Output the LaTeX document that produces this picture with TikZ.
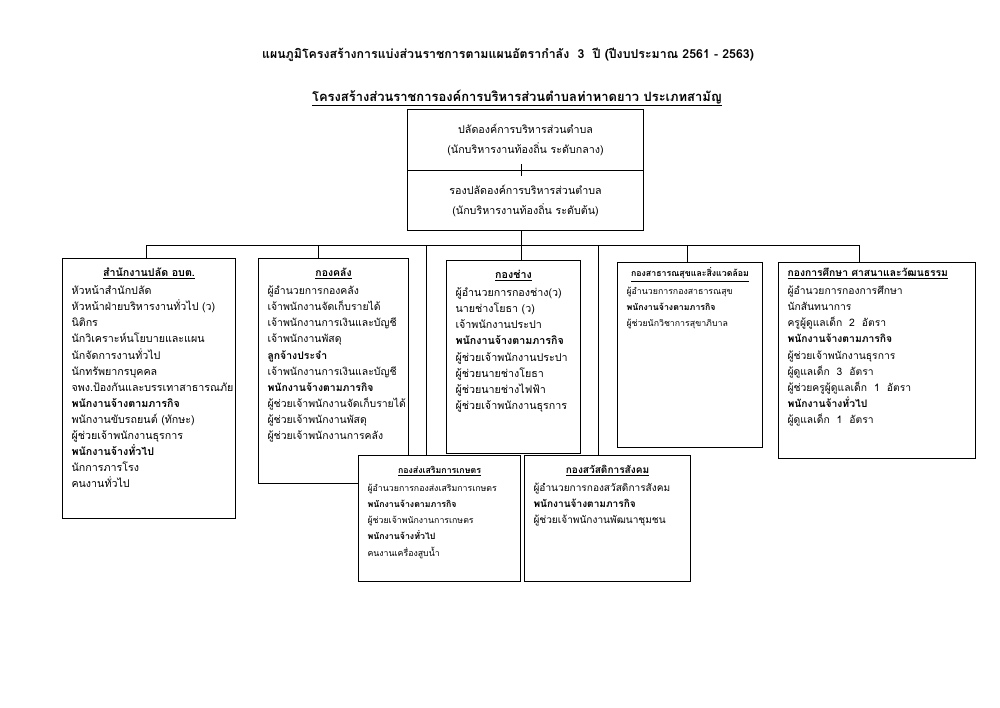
\documentclass[tikz,border=0pt]{standalone}
\usepackage{fontspec}
\setmainfont[Script=Thai]{Loma}
\usetikzlibrary{positioning,calc}
\newdimen\pxu \pxu=0.842pt
\newcommand{\kt}[1]{\rule{0pt}{11.2pt}\smash{\underline{\textbf{#1}}}}
\newcommand{\kb}[1]{\textbf{#1}}
% box with text on top: width, height (px), content
\newcommand{\kong}[3]{\parbox[t][#2\pxu][t]{#1\pxu}{\raggedright #3}}
\tikzset{
  hua/.style={draw,line width=0.9pt,anchor=north west,inner sep=0pt,align=center,
              minimum width=236\pxu,minimum height=61\pxu,font=\fontsize{9}{16.8}\selectfont},
  kongbox/.style={draw,fill=white,line width=0.9pt,anchor=north west,inner xsep=9\pxu,inner ysep=5\pxu,
                  font=\fontsize{9}{13.5}\selectfont},
  lek/.style={font=\fontsize{7.4}{13.5}\selectfont},
  sen/.style={line width=0.8pt},
}
\begin{document}
\begin{tikzpicture}[x=0.842pt,y=-0.842pt]
  \useasboundingbox (0,0) rectangle (1000,707);
  \node[font=\bfseries\fontsize{10.4}{14}\selectfont] (title) at (508,55)
    {แผนภูมิโครงสร้างการแบ่งส่วนราชการตามแผนอัตรากำลัง \ 3 \ ปี (ปีงบประมาณ 2561 - 2563)};
  \node[font=\bfseries\fontsize{10.9}{14}\selectfont] (sub) at (517,98)
    {\underline{โครงสร้างส่วนราชการองค์การบริหารส่วนตำบลท่าหาดยาว ประเภทสามัญ}};

  % top
  \node[hua] (pa) at (407,109) {ปลัดองค์การบริหารส่วนตำบล\\(นักบริหารงานท้องถิ่น ระดับกลาง)};
  \node[hua,minimum height=60\pxu] (rp) at (407,170) {รองปลัดองค์การบริหารส่วนตำบล\\(นักบริหารงานท้องถิ่น ระดับต้น)};

  % connectors
  \coordinate (bus) at (0,245);

  % divisions
  \node[kongbox] (b1) at (62,258) {\kong{155}{250}{%
    {\centering\kt{สำนักงานปลัด อบต.}\par}\vspace{2\pxu}
    หัวหน้าสำนักปลัด\\
    หัวหน้าฝ่ายบริหารงานทั่วไป (ว)\\
    นิติกร\\
    นักวิเคราะห์นโยบายและแผน\\
    นักจัดการงานทั่วไป\\
    นักทรัพยากรบุคคล\\
    จพง.ป้องกันและบรรเทาสาธารณภัย\\
    \kb{พนักงานจ้างตามภารกิจ}\\
    พนักงานขับรถยนต์ (ทักษะ)\\
    ผู้ช่วยเจ้าพนักงานธุรการ\\
    \kb{พนักงานจ้างทั่วไป}\\
    นักการภารโรง\\
    คนงานทั่วไป}};
  \node[kongbox,font=\fontsize{8.8}{13.5}\selectfont] (b2) at (258,258) {\kong{132}{215}{%
    {\centering\kt{กองคลัง}\par}\vspace{2\pxu}
    ผู้อำนวยการกองคลัง\\
    เจ้าพนักงานจัดเก็บรายได้\\
    เจ้าพนักงานการเงินและบัญชี\\
    เจ้าพนักงานพัสดุ\\
    \kb{ลูกจ้างประจำ}\\
    เจ้าพนักงานการเงินและบัญชี\\
    \kb{พนักงานจ้างตามภารกิจ}\\
    ผู้ช่วยเจ้าพนักงานจัดเก็บรายได้\\
    ผู้ช่วยเจ้าพนักงานพัสดุ\\
    ผู้ช่วยเจ้าพนักงานการคลัง}};
  \node[kongbox] (b3) at (446,260) {\kong{116}{183}{%
    {\centering\kt{กองช่าง}\par}\vspace{2\pxu}
    ผู้อำนวยการกองช่าง(ว)\\
    นายช่างโยธา (ว)\\
    เจ้าพนักงานประปา\\
    \kb{พนักงานจ้างตามภารกิจ}\\
    ผู้ช่วยเจ้าพนักงานประปา\\
    ผู้ช่วยนายช่างโยธา\\
    ผู้ช่วยนายช่างไฟฟ้า\\
    ผู้ช่วยเจ้าพนักงานธุรการ}};
  \node[kongbox,lek] (b4) at (617,262) {\kong{127}{175}{%
    \vspace*{-4\pxu}{\centering\kt{กองสาธารณสุขและสิ่งแวดล้อม}\par}\vspace{2\pxu}
    ผู้อำนวยการกองสาธารณสุข\\
    \kb{พนักงานจ้างตามภารกิจ}\\
    ผู้ช่วยนักวิชาการสุขาภิบาล}};
  \node[kongbox,font=\fontsize{8.7}{13.5}\selectfont] (b5) at (778,262) {\kong{179}{186}{%
    \vspace*{-4\pxu}\kt{กองการศึกษา ศาสนาและวัฒนธรรม}\par\vspace{2\pxu}
    ผู้อำนวยการกองการศึกษา\\
    นักสันทนาการ\\
    ครูผู้ดูแลเด็ก \ 2 \ อัตรา\\
    \kb{พนักงานจ้างตามภารกิจ}\\
    ผู้ช่วยเจ้าพนักงานธุรการ\\
    ผู้ดูแลเด็ก \ 3 \ อัตรา\\
    ผู้ช่วยครูผู้ดูแลเด็ก \ 1 \ อัตรา\\
    \kb{พนักงานจ้างทั่วไป}\\
    ผู้ดูแลเด็ก \ 1 \ อัตรา}};
  \node[kongbox,lek] (b6) at (358,455) {\kong{144}{116}{%
    {\centering\kt{กองส่งเสริมการเกษตร}\par}\vspace{2\pxu}
    ผู้อำนวยการกองส่งเสริมการเกษตร\\
    \kb{พนักงานจ้างตามภารกิจ}\\
    ผู้ช่วยเจ้าพนักงานการเกษตร\\
    \kb{พนักงานจ้างทั่วไป}\\
    คนงานเครื่องสูบน้ำ}};
  \node[kongbox,font=\fontsize{8.5}{13.5}\selectfont] (b7) at (524,455) {\kong{148}{116}{%
    {\centering\kt{กองสวัสดิการสังคม}\par}\vspace{2\pxu}
    ผู้อำนวยการกองสวัสดิการสังคม\\
    \kb{พนักงานจ้างตามภารกิจ}\\
    ผู้ช่วยเจ้าพนักงานพัฒนาชุมชน}};

  \draw[sen] ($(pa.south)+(-4,-7)$) -- ($(rp.north)+(-4,6)$);
  \draw[sen] ($(rp.south)+(-4,0)$) -- ($(b3.north)+(8,0)$);
  \draw[sen] ($(b1.north |- bus)+(-3,0)$) -- ($(b5.north |- bus)+(-18,0)$);
  \draw[sen] ($(b1.north)+(-3,0)$) -- ($(b1.north |- bus)+(-3,0)$);
  \draw[sen] ($(b2.north)+(-15,0)$) -- ($(b2.north |- bus)+(-15,0)$);
  \draw[sen] ($(b6.north)+(-13,0)$) -- ($(b6.north |- bus)+(-13,0)$);
  \draw[sen] ($(b7.north)+(-9,0)$) -- ($(b7.north |- bus)+(-9,0)$);
  \draw[sen] ($(b4.north)+(-3,0)$) -- ($(b4.north |- bus)+(-3,0)$);
  \draw[sen] ($(b5.north)+(-18,0)$) -- ($(b5.north |- bus)+(-18,0)$);
\end{tikzpicture}
\end{document}
